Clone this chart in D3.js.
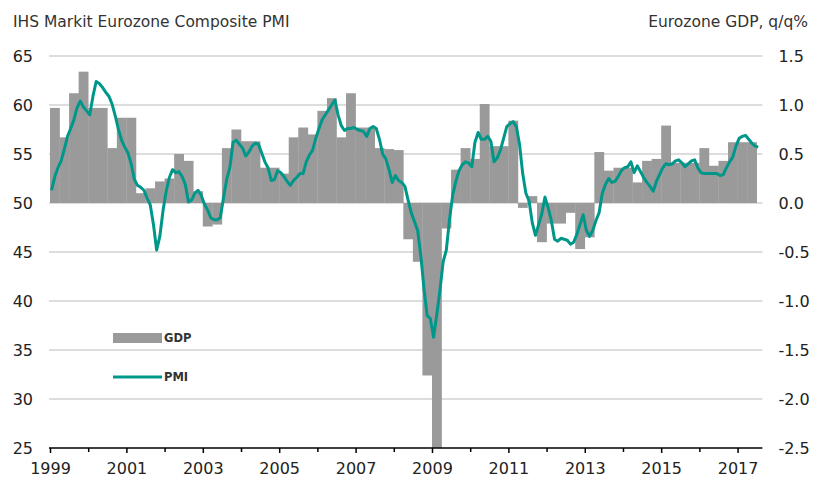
<!DOCTYPE html>
<html lang="en">
<head>
<meta charset="UTF-8">
<title>Eurozone Composite PMI vs GDP</title>
<style>
  body { margin: 0; background: #fff; }
  svg text { font-family: "DejaVu Sans", Arial, sans-serif; fill: #222; }
  .axis .domain { display: none; }
  .axis line { stroke: #000; }
</style>
</head>
<body>
<div id="chart"></div>
<script src="https://cdn.jsdelivr.net/npm/d3@7/dist/d3.min.js"></script>
<script>
// Eurozone GDP, q/q %, quarterly from 1999 Q1 to 2017 Q2
const gdpValues = [
  0.97, 0.67, 1.12, 1.34,   // 1999
  0.97, 0.97, 0.56, 0.87,   // 2000
  0.87, 0.10, 0.15, 0.22,   // 2001
  0.25, 0.50, 0.43, 0.12,   // 2002
  -0.24, -0.22, 0.56, 0.75, // 2003
  0.63, 0.63, 0.36, 0.36,   // 2004
  0.30, 0.67, 0.77, 0.70,   // 2005
  0.94, 1.07, 0.67, 1.12,   // 2006
  0.77, 0.77, 0.56, 0.55,   // 2007
  0.54, -0.37, -0.60, -1.76, // 2008
  -2.90, -0.26, 0.34, 0.56, // 2009
  0.45, 1.01, 0.58, 0.58,   // 2010
  0.84, -0.05, 0.07, -0.40, // 2011
  -0.21, -0.21, -0.10, -0.47, // 2012
  -0.35, 0.52, 0.33, 0.36,  // 2013
  0.36, 0.21, 0.43, 0.45,   // 2014
  0.79, 0.41, 0.41, 0.41,   // 2015
  0.56, 0.38, 0.43, 0.62,   // 2016
  0.62, 0.62                // 2017
];

// IHS Markit Eurozone Composite PMI, monthly from Jan 1999 to Jul 2017
const pmiValues = [
  51.3, 52.7, 53.6, 54.3, 55.5, 56.8, 57.6, 58.5, 59.7, 60.4, 59.8, 59.4, // 1999
  59.0, 60.9, 62.4, 62.2, 61.8, 61.3, 60.9, 60.1, 58.9, 57.5, 56.4, 55.7, // 2000
  55.1, 54.0, 52.4, 51.8, 51.6, 51.3, 50.5, 49.8, 47.8, 45.2, 46.6, 49.2, // 2001
  51.2, 52.6, 53.4, 53.1, 53.2, 52.7, 51.9, 50.1, 50.3, 51.0, 51.3, 50.8, // 2002
  49.9, 49.3, 48.5, 48.3, 48.3, 48.5, 50.5, 52.4, 53.6, 56.2, 56.4, 56.0, // 2003
  55.6, 54.8, 55.2, 55.8, 56.1, 56.0, 55.1, 54.2, 53.6, 52.3, 52.4, 53.3, // 2004
  53.1, 52.7, 52.2, 51.8, 52.3, 52.6, 53.0, 53.0, 54.2, 54.9, 55.4, 56.6, // 2005
  57.6, 58.5, 59.0, 59.5, 60.0, 60.5, 59.0, 57.9, 57.4, 57.6, 57.6, 57.7, // 2006
  57.5, 57.4, 57.3, 56.8, 57.6, 57.8, 57.6, 56.5, 55.0, 54.5, 53.4, 52.1, // 2007
  52.8, 52.3, 52.1, 51.7, 50.3, 49.0, 48.1, 47.2, 44.6, 41.2, 38.5, 38.2, // 2008
  36.3, 38.6, 41.1, 44.0, 45.2, 48.3, 50.8, 52.2, 53.3, 53.9, 54.2, 54.1, // 2009
  53.7, 56.2, 57.2, 56.5, 56.5, 56.8, 56.3, 54.2, 54.6, 55.4, 56.6, 57.8, // 2010
  58.1, 58.3, 57.8, 56.0, 53.0, 51.0, 50.2, 48.0, 46.7, 47.8, 48.9, 50.6, // 2011
  49.5, 48.2, 46.3, 46.1, 46.4, 46.3, 46.2, 45.8, 46.0, 46.8, 47.8, 48.8, // 2012
  47.2, 46.6, 47.2, 48.2, 49.0, 51.0, 51.9, 52.5, 52.1, 52.2, 52.7, 53.3, // 2013
  53.6, 53.7, 54.2, 53.1, 53.8, 53.2, 52.6, 52.1, 51.7, 51.2, 52.2, 52.9, // 2014
  53.6, 54.0, 53.9, 54.0, 54.3, 54.4, 54.1, 53.7, 54.0, 54.3, 54.4, 53.6, // 2015
  53.1, 53.0, 53.0, 53.0, 53.0, 53.0, 52.8, 52.9, 53.6, 54.2, 54.7, 55.8, // 2016
  56.6, 56.8, 56.9, 56.5, 56.1, 55.8, 55.7                                // 2017
];

const yearTicks = d3.range(1999, 2018);
const pmiTicks = [25, 30, 35, 40, 45, 50, 55, 60, 65];
const gdpTicks = [-2.5, -2.0, -1.5, -1.0, -0.5, 0.0, 0.5, 1.0, 1.5];

const width = 815, height = 478;
const plotLeft = 50, plotRight = 762.4, plotTop = 56, plotBottom = 448;

const svg = d3.select("#chart").append("svg")
  .attr("width", width)
  .attr("height", height);

const x = d3.scaleLinear().domain([1999, 2017.65]).range([plotLeft, plotRight]);
const yPmi = d3.scaleLinear().domain([25, 65]).range([plotBottom, plotTop]);
const yGdp = d3.scaleLinear().domain([-2.5, 1.5]).range([plotBottom, plotTop]);

// titles
svg.append("text")
  .attr("x", 13).attr("y", 27)
  .style("font-size", "15.5px").style("fill", "#333")
  .text("IHS Markit Eurozone Composite PMI");
svg.append("text")
  .attr("x", 808).attr("y", 27)
  .attr("text-anchor", "end")
  .style("font-size", "15.5px").style("fill", "#333")
  .text("Eurozone GDP, q/q%");

// gridlines
svg.append("g")
  .selectAll("line")
  .data(pmiTicks.filter(d => d > 25))
  .join("line")
  .attr("x1", plotLeft - 1).attr("x2", plotRight)
  .attr("y1", d => yPmi(d)).attr("y2", d => yPmi(d))
  .attr("stroke", "#d2d2d2")
  .attr("stroke-width", 1.5);

// clip for bars
svg.append("clipPath").attr("id", "plot")
  .append("rect")
  .attr("x", plotLeft - 2).attr("y", plotTop)
  .attr("width", plotRight - plotLeft + 4).attr("height", plotBottom - plotTop);

// GDP bars
const q = 0.25;
svg.append("g")
  .attr("clip-path", "url(#plot)")
  .selectAll("rect")
  .data(gdpValues)
  .join("rect")
  .attr("x", (d, i) => x(1999 + i * q))
  .attr("width", (d, i) => x(1999 + (i + 1) * q) - x(1999 + i * q) + 0.3)
  .attr("y", d => yGdp(Math.max(0, d)))
  .attr("height", d => Math.abs(yGdp(d) - yGdp(0)))
  .attr("fill", "#9a9a9a");

// PMI line
const line = d3.line()
  .x((d, i) => x(1999 + (i + 0.5) / 12))
  .y(d => yPmi(d));
svg.append("path")
  .datum(pmiValues)
  .attr("d", line)
  .attr("fill", "none")
  .attr("stroke", "#00978b")
  .attr("stroke-width", 3)
  .attr("stroke-linejoin", "round");

// left axis labels
svg.append("g")
  .attr("class", "axis")
  .attr("transform", `translate(${plotLeft - 1},0)`)
  .call(d3.axisLeft(yPmi).tickValues(pmiTicks).tickSize(0).tickPadding(16))
  .selectAll("text")
  .style("font-size", "16px");

// right axis labels (plain hyphen for negatives, as in the source)
svg.append("g")
  .attr("class", "axis")
  .attr("transform", `translate(${plotRight},0)`)
  .call(d3.axisRight(yGdp).tickValues(gdpTicks).tickSize(0).tickPadding(16)
    .tickFormat(d => d.toFixed(1)))
  .selectAll("text")
  .style("font-size", "16px");

// bottom axis
const xAxis = svg.append("g")
  .attr("class", "axis")
  .attr("transform", `translate(0,${plotBottom})`)
  .call(d3.axisBottom(x).tickValues(yearTicks).tickSizeOuter(0).tickSize(5).tickPadding(10)
    .tickFormat(d => d % 2 === 1 ? d : ""));
xAxis.selectAll("text").style("font-size", "16px");
xAxis.selectAll("line").attr("stroke-width", 1.5);
xAxis.selectAll(".tick").filter(d => d % 2 === 0).select("line").attr("y2", 4);
xAxis.append("line")
  .attr("x1", plotLeft - 1).attr("x2", plotRight)
  .attr("stroke", "#000").attr("stroke-width", 1.5);

// legend
const legend = svg.append("g");
legend.append("rect")
  .attr("x", 113).attr("y", 333)
  .attr("width", 49).attr("height", 10)
  .attr("fill", "#9a9a9a");
legend.append("text")
  .attr("x", 164).attr("y", 342)
  .style("font-size", "11.5px").style("font-weight", "bold").style("fill", "#333")
  .text("GDP");
legend.append("line")
  .attr("x1", 113).attr("x2", 162)
  .attr("y1", 377).attr("y2", 377)
  .attr("stroke", "#00978b").attr("stroke-width", 3.2);
legend.append("text")
  .attr("x", 164).attr("y", 381)
  .style("font-size", "11.5px").style("font-weight", "bold").style("fill", "#333")
  .text("PMI");
</script>
</body>
</html>
